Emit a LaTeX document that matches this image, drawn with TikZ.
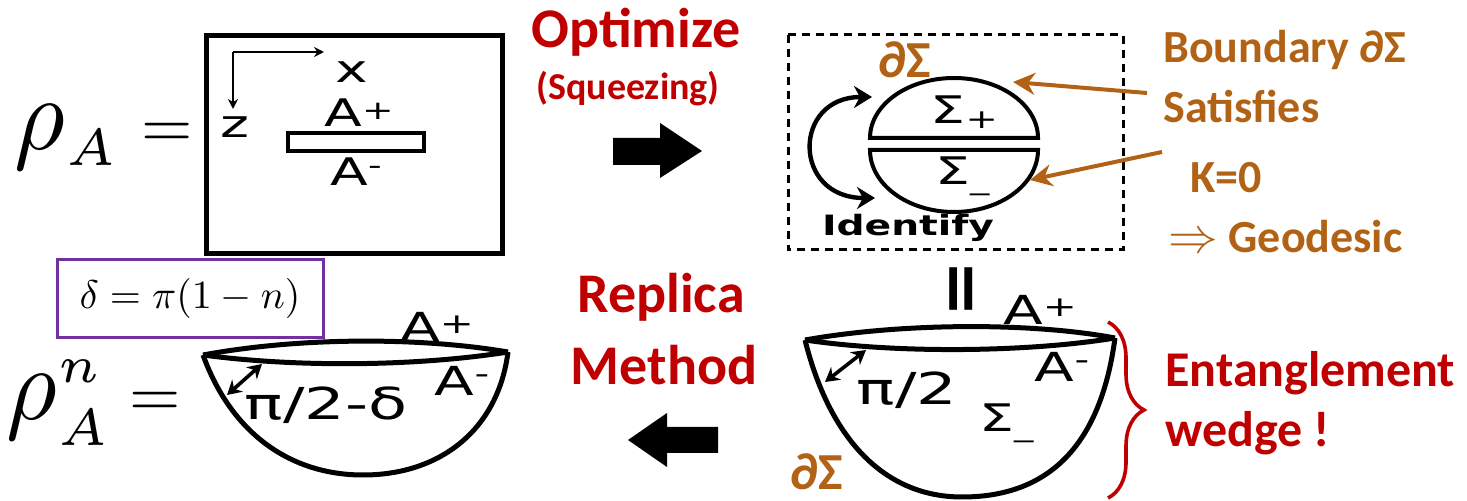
\documentclass[tikz,border=0pt]{standalone}
\usepackage{fontspec}
\setmainfont{Carlito}
\newfontfamily\figfont{DejaVu Sans}
\usetikzlibrary{arrows.meta,decorations.pathreplacing}
\definecolor{optred}{RGB}{192,0,0}
\definecolor{bdbrown}{RGB}{178,98,20}
\definecolor{boxpurple}{RGB}{112,48,160}
\newcommand{\fsz}[1]{\fontsize{#1}{#1}\selectfont}

\begin{document}
\begin{tikzpicture}[x=0.5pt,y=-0.5pt]
\tikzstyle{arrow}=[-{Stealth[length=11pt,width=11pt]}, line width=2pt]
\tikzstyle{axis}=[-{Stealth[length=5pt,width=5pt]}, line width=1.2pt]
\tikzstyle{twoway}=[{Stealth[length=7pt,width=8pt]}-{Stealth[length=7pt,width=8pt]}, line width=1.8pt]
\tikzstyle{redlbl}=[text=optred, font=\bfseries\fsz{28}, inner sep=0pt, anchor=base]
\tikzstyle{brownlbl}=[text=bdbrown, font=\bfseries\fsz{23}, inner sep=0pt, anchor=base west]
\tikzstyle{figlbl}=[font=\figfont\fsz{19}, inner sep=0pt, xscale=1.45]
\tikzstyle{rim}=[line width=2.5pt, line join=round]
\useasboundingbox (0,0) rectangle (1467,501);

\draw node[anchor=base west, inner sep=0pt] (rhoA) at (14,150) {\scalebox{4.9}[5.2]{$\rho_{\scriptscriptstyle A}$}};
\draw node[anchor=base, inner sep=0pt] (eqA) at (167,148) {\scalebox{3.3}{$=$}};
\draw[line width=2.5pt] (206,36) rectangle (502,254);
\coordinate (origin) at (233,52);
\coordinate (xend) at (324,52);
\coordinate (zend) at (233,109);
\draw[axis] (origin) -- (xend);
\draw[axis] (origin) -- (zend);
\draw node[figlbl] (xlab) at (352,72) {x};
\draw node[figlbl] (zlab) at (235,127) {z};
\draw node[figlbl] (Aplus) at (359,113) {A\raisebox{.2em}{\fsz{13}+}};
\draw[line width=2pt] (288,133) rectangle (424,151);
\draw node[figlbl] (Aminus) at (356,172) {A\raisebox{.3em}{\fsz{13}-}};

\draw node[redlbl] (opt) at (636,48) {Optimize};
\draw node[redlbl, font=\bfseries\fsz{19}] (squeeze) at (628,100) {(Squeezing)};
\fill (613,138) -- (660,138) -- (660,123) -- (702,151) -- (660,178) -- (660,165) -- (613,165) -- cycle;

\draw[dash pattern=on 4pt off 3pt, line width=1.5pt] (788,35) rectangle (1123,250);
\draw node[text=bdbrown, font=\bfseries\fsz{26}, inner sep=0pt] (bdtop) at (905,60) {∂Σ};
\draw[line width=2pt] (870,138) arc[start angle=180, end angle=0, x radius=42pt, y radius=30pt] -- cycle;
\draw[line width=2pt] (870,150) arc[start angle=180, end angle=360, x radius=42pt, y radius=31pt] -- cycle;
\draw node[figlbl] (sigup) at (965,112) {Σ\textsubscript{+}};
\draw node[figlbl] (siglo) at (963,176) {Σ\textsubscript{\_}};
\coordinate (idtop) at (872,97);
\coordinate (idbot) at (875,198);
\draw[{Stealth[length=9pt,width=11pt]}-{Stealth[length=9pt,width=11pt]}, line width=2.2pt] (idtop) .. controls (792,97) and (792,198) .. (idbot);
\draw node[font=\figfont\bfseries\fsz{14}, xscale=1.4, inner sep=0pt] (ident) at (908,228) {Identify};
\coordinate (bdtail1) at (1147,93);
\coordinate (bdtip1) at (1013,82);
\coordinate (bdtail2) at (1162,152);
\coordinate (bdtip2) at (1030,180);
\draw[arrow, bdbrown] (bdtail1) -- (bdtip1);
\draw[arrow, bdbrown] (bdtail2) -- (bdtip2);

\draw node[brownlbl] (bound) at (1163,63) {Boundary ∂Σ};
\draw node[brownlbl] (satis) at (1163,123) {Satisfies};
\draw node[brownlbl] (kzero) at (1190,193) {K=0};
\draw node[brownlbl] (geod) at (1168,253) {$\Rightarrow$\ Geodesic};

\draw node[draw=boxpurple, line width=1.5pt, minimum width=133pt, minimum height=39pt] (delta) at (190,299) {\scalebox{2}{$\delta=\pi(1-n)$}};
\draw node[anchor=base west, inner sep=0pt] (rhoAn) at (6,420) {\scalebox{4.9}[5.2]{$\rho^{\scriptscriptstyle n}_{\scriptscriptstyle A}$}};
\draw node[anchor=base, inner sep=0pt] (eqAn) at (155,417) {\scalebox{3.3}{$=$}};

\coordinate (lbL) at (203,355);
\coordinate (lbR) at (508,352);
\draw[rim] (lbL) .. controls (300,337) and (420,337) .. (lbR);
\draw[rim] (lbL) .. controls (300,368) and (420,366) .. (lbR);
\draw[rim] (lbL) .. controls (232,435) and (292,475) .. (363,475) .. controls (440,475) and (498,430) .. (lbR);
\coordinate (la1) at (227,395);
\coordinate (la2) at (262,364);
\draw[twoway] (la1) -- (la2);
\draw node[figlbl, font=\figfont\fsz{22}] (angdelta) at (326,405) {π/2-δ};
\draw node[figlbl, font=\figfont\fsz{20}] (lAplus) at (437,327) {A\raisebox{.2em}{\fsz{14}+}};
\draw node[figlbl, font=\figfont\fsz{20}] (lAminus) at (462,381) {A\raisebox{.3em}{\fsz{14}-}};

\draw node[redlbl] (repl) at (661,313) {Replica};
\draw node[redlbl] (meth) at (664,385) {Method};
\fill (628,440) -- (667,413) -- (667,427) -- (718,427) -- (718,453) -- (667,453) -- (667,467) -- cycle;

\draw node[rotate=90, font=\figfont\bfseries\fsz{34}, inner sep=0pt] (eqmid) at (966,289) {=};
\coordinate (rbL) at (805,340);
\coordinate (rbR) at (1115,338);
\draw[rim] (rbL) .. controls (900,323) and (1030,322) .. (rbR);
\draw[rim] (rbL) .. controls (900,354) and (1030,352) .. (rbR);
\draw[rim] (rbL) .. controls (830,440) and (885,497) .. (962,497) .. controls (1045,497) and (1100,450) .. (rbR);
\coordinate (ra1) at (825,382);
\coordinate (ra2) at (866,350);
\draw[twoway] (ra1) -- (ra2);
\draw node[figlbl, font=\figfont\fsz{22}] (ang) at (907,390) {π/2};
\draw node[figlbl] (rsiglo) at (1007,423) {Σ\textsubscript{\_}};
\draw node[figlbl, font=\figfont\fsz{20}] (rAplus) at (1040,310) {A\raisebox{.2em}{\fsz{14}+}};
\draw node[figlbl, font=\figfont\fsz{20}] (rAminus) at (1062,367) {A\raisebox{.3em}{\fsz{14}-}};
\draw node[text=bdbrown, font=\bfseries\fsz{26}, inner sep=0pt] (bdbot) at (817,472) {∂Σ};

\coordinate (brtop) at (1108,322);
\coordinate (brbot) at (1108,498);
\draw[optred, line width=1.8pt, decorate, decoration={brace, amplitude=18pt}] (brtop) -- (brbot);
\draw node[redlbl, anchor=base west, font=\bfseries\fsz{25}] (ent) at (1165,387) {Entanglement};
\draw node[redlbl, anchor=base west, font=\bfseries\fsz{25}] (wedge) at (1165,447) {wedge !};
\end{tikzpicture}
\end{document}
